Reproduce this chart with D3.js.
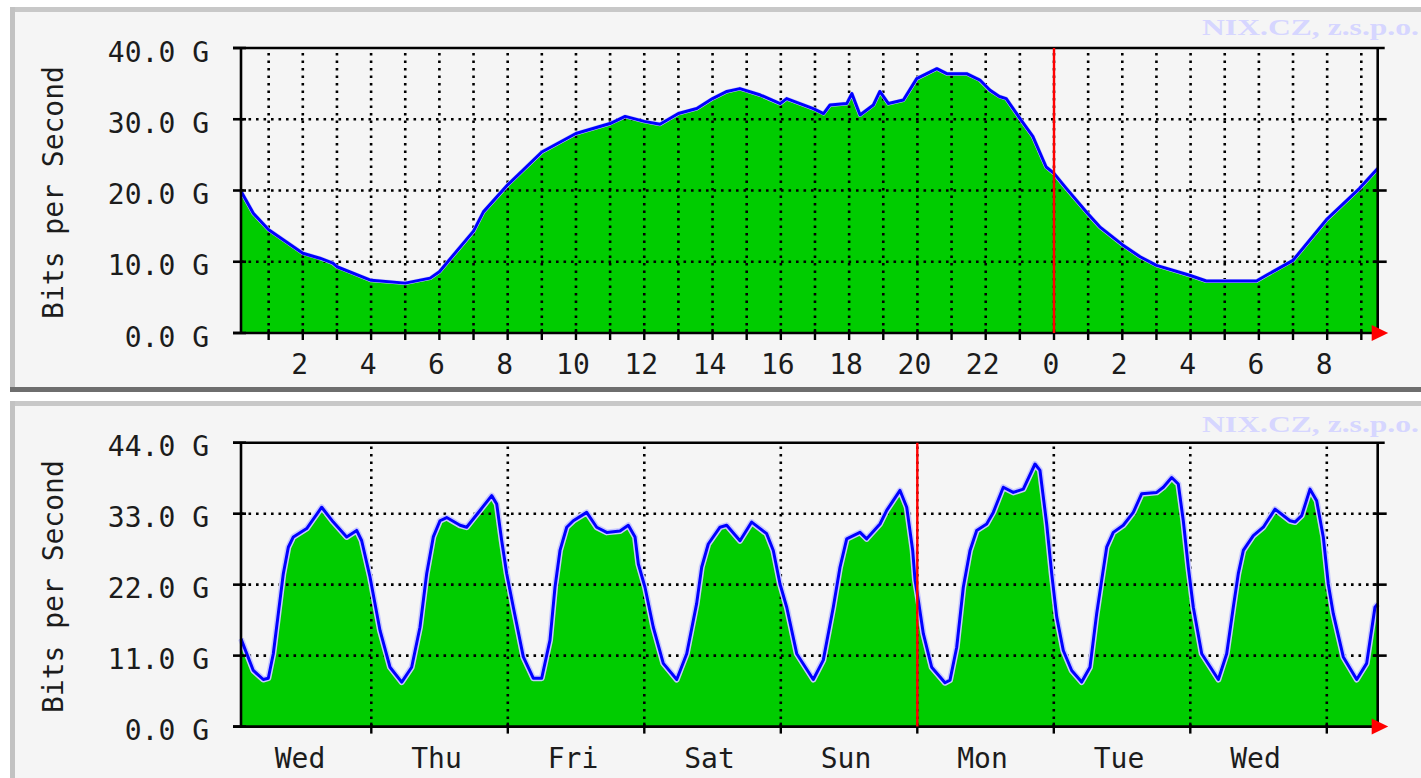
<!DOCTYPE html>
<html lang="en">
<head>
    <meta charset="UTF-8">
    <title>NIX.CZ traffic</title>
    <script src="https://d3js.org/d3.v7.min.js"></script>
    <style>
        body {
            margin: 0;
            background: #fff;
        }

        svg {
            display: block;
        }

        .label {
            font-family: "DejaVu Sans Mono", monospace;
            font-size: 28px;
            fill: #1c1c1c;
        }

        .grid {
            stroke: #000;
            stroke-width: 2.6;
            stroke-dasharray: 2.6, 4.9;
            fill: none;
        }

        .axis {
            stroke: #000;
            stroke-width: 2.6;
            fill: none;
        }

        .watermark {
            font-family: "Liberation Serif", serif;
            font-weight: bold;
            font-size: 23px;
            fill: #d6d6ff;
        }
    </style>
</head>
<body>
    <svg id="chart"></svg>

    <script>
        // Daily graph: hours counted from midnight of the previous day, values in Gbit/s
        const dayHours = [0.19, 0.55, 1.0, 2.0, 2.5, 2.88, 3.0, 4.0, 5.0, 5.73,
            6.0, 7.0, 7.29, 8.0, 9.0, 10.0, 11.0, 11.44, 12.0, 12.46,
            13.0, 13.54, 14.0, 14.42, 14.8, 15.4, 15.98, 16.17, 16.95, 17.25,
            17.44, 17.93, 18.08, 18.32, 18.71, 18.9, 19.15, 19.59, 19.98, 20.57,
            20.86, 21.44, 21.83, 22.12, 22.4, 22.6, 22.99, 23.38, 23.77, 24.0,
            24.36, 24.98, 25.34, 26.0, 26.52, 27.0, 27.97, 28.46, 29.93, 30.22,
            31.0, 31.98, 32.95, 33.48];
        const dayBits = [19.9, 16.8, 14.5, 11.2, 10.5, 9.8, 9.3, 7.4, 7.0, 7.7,
            8.6, 14.3, 17.0, 20.8, 25.4, 28.0, 29.4, 30.4, 29.7, 29.3,
            30.8, 31.5, 32.9, 33.9, 34.3, 33.4, 32.2, 32.9, 31.5, 30.8,
            32.0, 32.2, 33.6, 30.6, 32.0, 33.9, 32.2, 32.7, 35.7, 37.1,
            36.4, 36.4, 35.5, 34.1, 33.2, 32.9, 30.2, 27.6, 23.3, 22.4,
            20.3, 16.8, 14.9, 12.4, 10.7, 9.5, 8.1, 7.3, 7.3, 8.1,
            10.2, 15.9, 20.3, 23.1];
        const dayGridHours = d3.range(1, 34);
        const dayLabelHours = [2, 4, 6, 8, 10, 12, 14, 16, 18, 20, 22, 24, 26, 28, 30, 32];
        const dayLabels = ["2", "4", "6", "8", "10", "12", "14", "16", "18", "20", "22", "0", "2", "4", "6", "8"];
        const dayYTicks = [0, 10, 20, 30, 40];
        const dayYLabels = ["0.0 G", "10.0 G", "20.0 G", "30.0 G", "40.0 G"];

        // Weekly graph: hours counted from Wednesday 00:00, values in Gbit/s
        const weekHours = [1.09, 3.25, 5.01, 5.89, 6.77, 7.65, 8.53, 9.41, 10.29, 12.64,
            15.28, 17.32, 19.67, 21.43, 22.31, 23.77, 25.53, 27.29, 29.35, 31.1,
            32.56, 33.74, 34.9, 36.08, 37.26, 39.6, 40.77, 43.11, 45.17, 46.05,
            46.93, 47.81, 48.97, 50.73, 52.48, 53.96, 55.42, 56.3, 57.18, 58.36,
            59.52, 61.87, 63.63, 65.39, 67.73, 69.19, 70.37, 70.95, 72.12, 73.58,
            75.34, 77.7, 79.46, 81.21, 82.09, 83.25, 85.31, 86.49, 88.83, 90.88,
            93.52, 94.68, 95.86, 97.04, 98.8, 101.71, 103.47, 105.23, 106.41, 107.59,
            109.93, 111.1, 113.44, 114.62, 116.96, 118.14, 119.19, 119.6, 120.18, 121.06,
            122.53, 124.87, 125.75, 126.93, 128.09, 129.27, 130.44, 132.2, 133.36, 135.12,
            136.88, 138.64, 140.7, 141.57, 142.75, 143.63, 144.51, 145.67, 147.15, 148.9,
            150.36, 151.54, 152.42, 153.3, 154.46, 156.22, 157.98, 159.46, 162.1, 163.26,
            164.73, 165.89, 166.77, 167.65, 168.53, 170.01, 172.93, 174.4, 175.56, 176.44,
            177.32, 179.08, 180.84, 182.9, 185.53, 186.41, 187.59, 189.05, 190.22, 191.38,
            192.26, 193.14, 194.9, 197.26, 199.01, 200.47, 200.95];
        const weekBits = [13.6, 8.7, 7.3, 7.5, 11.3, 17.5, 23.7, 27.8, 29.4, 30.7,
            34.0, 31.7, 29.4, 30.4, 28.8, 23.2, 14.9, 9.2, 6.9, 9.2,
            15.4, 23.7, 29.4, 31.9, 32.4, 31.2, 30.9, 33.5, 35.8, 34.5,
            28.8, 23.7, 18.5, 10.8, 7.5, 7.5, 13.4, 21.6, 27.3, 30.9,
            31.9, 33.2, 30.9, 30.1, 30.3, 31.2, 29.4, 25.2, 21.6, 15.4,
            9.8, 7.3, 11.3, 19.1, 24.7, 28.3, 30.9, 31.2, 28.8, 31.7,
            29.9, 27.3, 22.1, 18.5, 11.3, 7.3, 10.3, 18.5, 24.7, 29.1,
            30.1, 29.1, 31.4, 33.5, 36.6, 34.0, 27.3, 22.7, 19.6, 14.4,
            9.2, 6.8, 7.2, 12.3, 21.6, 27.3, 30.4, 31.4, 33.2, 37.1,
            36.3, 36.8, 40.7, 39.7, 31.4, 23.7, 17.0, 11.8, 8.7, 6.9,
            9.2, 17.5, 22.7, 27.8, 30.1, 31.2, 33.2, 36.1, 36.3, 37.1,
            38.6, 37.6, 31.9, 24.7, 18.5, 11.3, 7.3, 11.3, 18.5, 23.7,
            27.3, 29.6, 30.9, 33.7, 31.9, 31.7, 32.7, 36.8, 35.0, 29.4,
            22.1, 17.5, 10.8, 7.3, 9.8, 18.5, 19.0];
        const weekGridHours = [24, 48, 72, 96, 120, 144, 168, 192];
        const weekLabelHours = [12, 36, 60, 84, 108, 132, 156, 180];
        const weekLabels = ["Wed", "Thu", "Fri", "Sat", "Sun", "Mon", "Tue", "Wed"];
        const weekYTicks = [0, 11, 22, 33, 44];
        const weekYLabels = ["0.0 G", "11.0 G", "22.0 G", "33.0 G", "44.0 G"];

        const svg = d3.select('#chart')
            .attr('width', 1421)
            .attr('height', 778);

        function drawPanel(p) {
            const g = svg.append('g');

            // panel with bevelled border
            g.append('rect')
                .attr('x', 10).attr('y', p.top)
                .attr('width', 1411).attr('height', p.height)
                .attr('fill', '#f5f5f5');
            g.append('rect')
                .attr('x', 10).attr('y', p.top)
                .attr('width', 1411).attr('height', 5)
                .attr('fill', '#c8c8c8');
            g.append('rect')
                .attr('x', 10).attr('y', p.top)
                .attr('width', 5).attr('height', p.height)
                .attr('fill', '#c2c2c2');
            if (p.bottomEdge) {
                g.append('rect')
                    .attr('x', 10).attr('y', p.top + p.height - 5)
                    .attr('width', 1411).attr('height', 5)
                    .attr('fill', '#6e6e6e');
            }

            g.append('text')
                .attr('class', 'watermark')
                .attr('x', 1202)
                .attr('y', p.markY)
                .attr('textLength', 217)
                .attr('lengthAdjust', 'spacingAndGlyphs')
                .text('NIX.CZ, z.s.p.o.');

            const xScale = d3.scaleLinear().domain(p.xDomain).range([241, 1377.7]);
            const yScale = d3.scaleLinear().domain([0, p.yMax]).range([p.plotBottom, p.plotTop]);
            const series = p.hours.map((h, i) => ({ h: h, v: p.values[i] }));

            // traffic area
            g.append('path')
                .datum(series)
                .attr('fill', '#00cc00')
                .attr('d', d3.area()
                    .x(d => xScale(d.h))
                    .y0(yScale(0))
                    .y1(d => yScale(d.v)));

            // dotted grid
            g.selectAll('.vgrid')
                .data(p.gridHours)
                .enter()
                .append('line')
                .attr('class', 'grid')
                .attr('x1', d => xScale(d)).attr('x2', d => xScale(d))
                .attr('y1', yScale(0)).attr('y2', yScale(p.yMax));
            g.selectAll('.hgrid')
                .data(p.yTicks.slice(1, -1))
                .enter()
                .append('line')
                .attr('class', 'grid')
                .attr('x1', 241).attr('x2', 1377.7)
                .attr('y1', d => yScale(d)).attr('y2', d => yScale(d));

            // outline of the traffic
            g.append('path')
                .datum(series)
                .attr('fill', 'none')
                .attr('stroke', '#c8c8ff')
                .attr('stroke-width', p.halo)
                .attr('stroke-linejoin', 'round')
                .attr('d', d3.line().x(d => xScale(d.h)).y(d => yScale(d.v)));
            g.append('path')
                .datum(series)
                .attr('fill', 'none')
                .attr('stroke', '#0000ff')
                .attr('stroke-width', 3)
                .attr('stroke-linejoin', 'round')
                .attr('d', d3.line().x(d => xScale(d.h)).y(d => yScale(d.v)));

            // frame
            const x0 = xScale.range()[0], x1 = xScale.range()[1];
            const yb = yScale(0), yt = yScale(p.yMax);
            g.append('line').attr('class', 'axis')
                .attr('x1', 233).attr('x2', x1 - 5).attr('y1', yb).attr('y2', yb);
            g.append('line').attr('class', 'axis')
                .attr('x1', 233).attr('x2', x1 + 7).attr('y1', yt).attr('y2', yt);
            g.append('line').attr('class', 'axis')
                .attr('x1', x0).attr('x2', x0).attr('y1', yt).attr('y2', yb);
            g.append('line').attr('class', 'axis')
                .attr('x1', x1).attr('x2', x1).attr('y1', yt).attr('y2', yb);

            // y ticks and labels
            g.selectAll('.ltick')
                .data(p.yTicks)
                .enter()
                .append('line')
                .attr('class', 'axis')
                .attr('x1', 233).attr('x2', 246)
                .attr('y1', d => yScale(d)).attr('y2', d => yScale(d));
            g.selectAll('.rtick')
                .data(p.yTicks.slice(1, -1))
                .enter()
                .append('line')
                .attr('class', 'axis')
                .attr('x1', x1 - 5).attr('x2', x1 + 9)
                .attr('y1', d => yScale(d)).attr('y2', d => yScale(d));
            g.selectAll('.ylabel')
                .data(p.yTicks)
                .enter()
                .append('text')
                .attr('class', 'label')
                .attr('x', 209)
                .attr('y', d => yScale(d) + 13.7)
                .style('text-anchor', 'end')
                .text((d, i) => p.yLabels[i]);

            // x ticks and labels
            g.selectAll('.xtick')
                .data(p.gridHours)
                .enter()
                .append('line')
                .attr('stroke', '#000')
                .attr('stroke-width', 2.4)
                .attr('x1', d => xScale(d)).attr('x2', d => xScale(d))
                .attr('y1', yb - 4).attr('y2', yb + 7);
            g.selectAll('.xlabel')
                .data(p.labelHours)
                .enter()
                .append('text')
                .attr('class', 'label')
                .attr('x', d => xScale(d) - 3)
                .attr('y', yb + 41)
                .style('text-anchor', 'middle')
                .text((d, i) => p.labels[i]);

            // axis title
            g.append('text')
                .attr('class', 'label')
                .attr('transform', `translate(63,${(yt + yb) / 2 + 2}) rotate(-90)`)
                .style('text-anchor', 'middle')
                .text('Bits per Second');

            // current period marker
            g.append('line')
                .attr('stroke', '#ff0000')
                .attr('stroke-width', 2.4)
                .attr('x1', xScale(p.marker)).attr('x2', xScale(p.marker))
                .attr('y1', yt).attr('y2', yb);

            // arrow at the end of the time axis
            g.append('path')
                .attr('fill', '#ff0000')
                .attr('d', `M${x1 - 6},${yb - 8}L${x1 + 10.5},${yb}L${x1 - 6},${yb + 8}Z`);
        }

        drawPanel({
            top: 7, height: 385, bottomEdge: true, markY: 35,
            plotTop: 48, plotBottom: 333,
            xDomain: [0.19, 33.48], yMax: 40,
            hours: dayHours, values: dayBits,
            gridHours: dayGridHours, labelHours: dayLabelHours, labels: dayLabels,
            yTicks: dayYTicks, yLabels: dayYLabels,
            marker: 24, halo: 4
        });

        drawPanel({
            top: 401, height: 400, bottomEdge: false, markY: 432,
            plotTop: 442.7, plotBottom: 726.6,
            xDomain: [1.09, 200.95], yMax: 44,
            hours: weekHours, values: weekBits,
            gridHours: weekGridHours, labelHours: weekLabelHours, labels: weekLabels,
            yTicks: weekYTicks, yLabels: weekYLabels,
            marker: 120, halo: 6
        });
    </script>
</body>
</html>
